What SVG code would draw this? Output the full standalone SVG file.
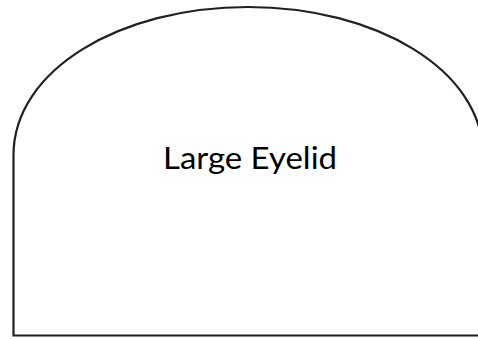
<svg xmlns="http://www.w3.org/2000/svg" width="478" height="339" viewBox="0 0 478 339">
<style>
.shape{fill:#fff;stroke:#231f20;stroke-width:2.2}
.label{font-family:Lato,"Noto Sans",sans-serif;font-size:30px;fill:#000;text-anchor:middle}
</style>
<rect width="478" height="339" fill="#fff"/>
<g id="large-eyelid">
<path class="shape" d="M13.5,335.5 L13.5,155 C13.5,70 120,7 248,7 C376,7 483,70 483,155 L483,335.5 Z"/>
<text class="label" x="250" y="169" textLength="174" lengthAdjust="spacingAndGlyphs">Large Eyelid</text>
</g>
</svg>
